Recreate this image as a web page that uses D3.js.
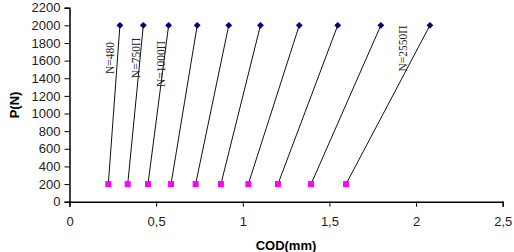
<!DOCTYPE html>
<html><head><meta charset="utf-8">
<script src="https://cdn.jsdelivr.net/npm/d3@7"></script>
<style>body{margin:0;background:#fff}svg{display:block}</style>
</head><body>
<svg id="c" width="514" height="252"></svg>
<script>
const codStart = [0.224, 0.336, 0.453, 0.586, 0.728, 0.874, 1.032, 1.203, 1.394, 1.596];
const codEnd   = [0.291, 0.426, 0.572, 0.737, 0.919, 1.102, 1.326, 1.548, 1.797, 2.080];
const pStart = 200;
const pEnd = 2000;
const labelText = ["N=480", "N=750П", "N=1000П", "N=2550П"];
const labelCod  = [0.254, 0.407, 0.551, 1.950];
const labelP    = [1630, 1630, 1562, 1737];
const xTicks = [0, 0.5, 1, 1.5, 2, 2.5];
const yTicks = d3.range(0, 2201, 200);

const svg = d3.select("#c");
const x = d3.scaleLinear().domain([0, 2.5]).range([69.5, 502.7]);
const y = d3.scaleLinear().domain([0, 2200]).range([201.7, 7.7]);
const fmt = d => String(d).replace(".", ",");

const yAxis = svg.append("g").attr("transform", "translate(69.5,0)")
  .call(d3.axisLeft(y).tickValues(yTicks).tickSize(5).tickPadding(4).tickFormat(d => d));
const xAxis = svg.append("g").attr("transform", "translate(0,201.7)")
  .call(d3.axisBottom(x).tickValues(xTicks).tickSize(5).tickPadding(10).tickFormat(fmt));
[yAxis, xAxis].forEach(a => {
  a.selectAll("text").attr("font-family", "Liberation Sans, Arial, sans-serif").attr("font-size", 13).attr("fill", "#222");
  a.select(".domain").attr("stroke", "#000").attr("stroke-width", 1.5);
  a.selectAll(".tick line").attr("stroke", "#000");
});

const series = codStart.map((c, i) => ({s: c, e: codEnd[i]}));
svg.append("g").selectAll("line").data(series).join("line")
  .attr("x1", d => x(d.s)).attr("y1", y(pStart))
  .attr("x2", d => x(d.e)).attr("y2", y(pEnd))
  .attr("stroke", "#111").attr("stroke-width", 1);

svg.append("g").selectAll("rect").data(series).join("rect")
  .attr("x", d => x(d.s) - 3).attr("y", y(pStart) - 3)
  .attr("width", 6).attr("height", 6).attr("fill", "#ff00ff");

svg.append("g").selectAll("path").data(series).join("path")
  .attr("transform", d => `translate(${x(d.e)},${y(pEnd)})`)
  .attr("d", d3.symbol(d3.symbolDiamond2, 30)())
  .attr("fill", "#000080");

const labels = labelText.map((t, i) => ({t, c: labelCod[i], p: labelP[i]}));
svg.append("g").selectAll("text").data(labels).join("text")
  .attr("transform", d => `translate(${x(d.c)},${y(d.p)}) rotate(-90)`)
  .attr("text-anchor", "middle")
  .attr("font-family", "Liberation Serif, Times New Roman, serif")
  .attr("font-size", 11.5).attr("fill", "#222")
  .text(d => d.t);

svg.append("text").attr("transform", "translate(19,105) rotate(-90)")
  .attr("text-anchor", "middle").attr("font-family", "Liberation Sans, Arial, sans-serif")
  .attr("font-size", 13).attr("font-weight", "bold").text("P(N)");
svg.append("text").attr("x", 286).attr("y", 250)
  .attr("text-anchor", "middle").attr("font-family", "Liberation Sans, Arial, sans-serif")
  .attr("font-size", 13).attr("font-weight", "bold").text("COD(mm)");
</script>
</body></html>
